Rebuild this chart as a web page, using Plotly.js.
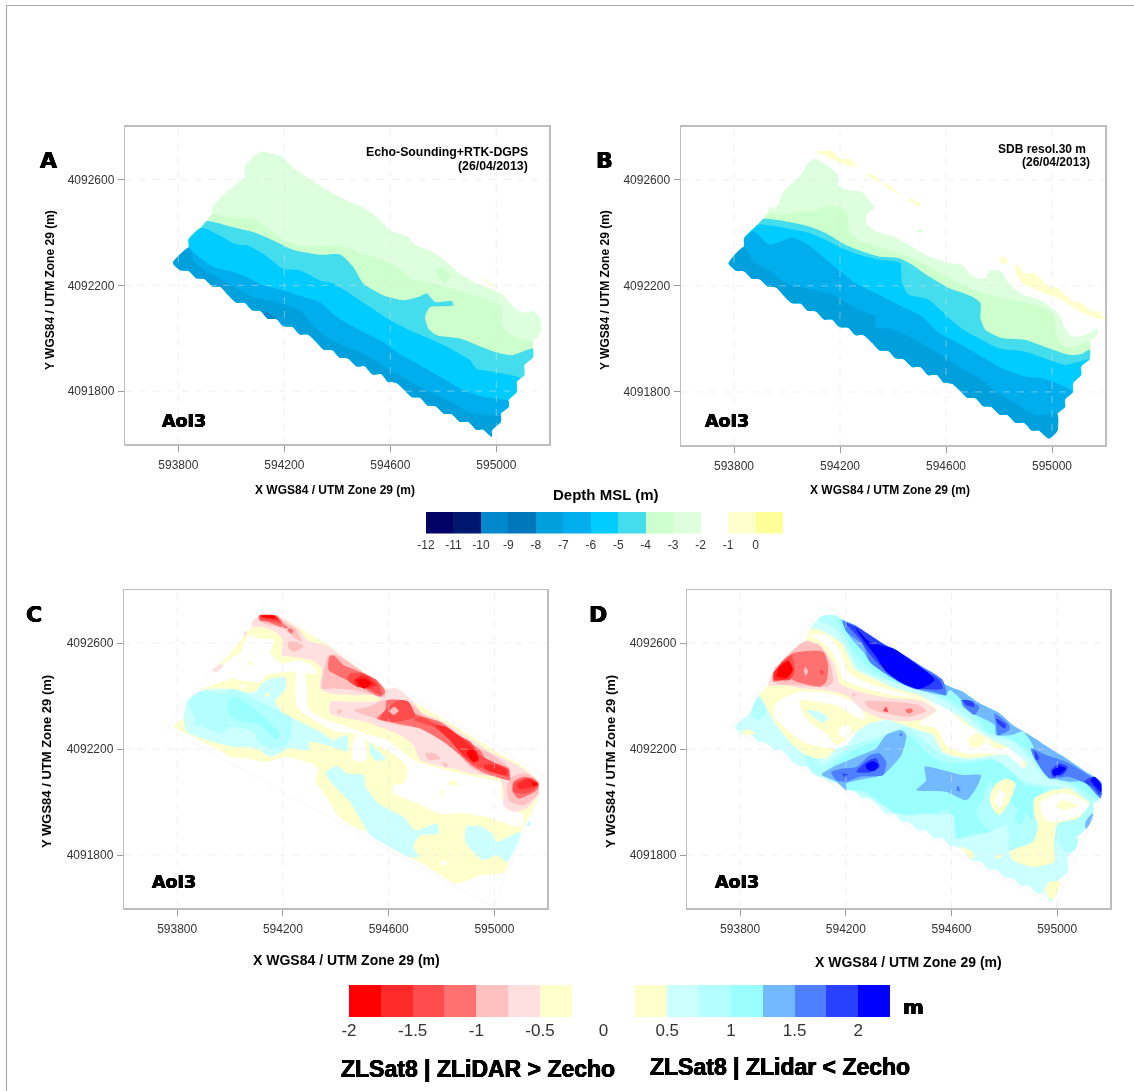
<!DOCTYPE html>
<html><head><meta charset="utf-8">
<script src="https://cdn.plot.ly/plotly-3.0.1.min.js"></script>
<style>html,body{margin:0;padding:0;background:#fff}#g{width:1134px;height:1091px;filter:blur(0.35px)}</style>
</head><body><div id="g"></div>
<script>
// ---- tick labels and legend values ----
const xTicks=[593800,594200,594600,595000];
const yTicks=[4091800,4092200,4092600];
const xRange=[593600,595200], yRange=[4091600,4092800];
const depthLevels=[-12,-11,-10,-9,-8,-7,-6,-5,-4,-3,-2,-1,0];
const depthColors=['#000066','#00176F','#0088CC','#0077BB','#00A0DD','#00AEEE','#00CCFF','#44DDEE','#CCFFCC','#DDFFDD','#FFFFFF','#FFFFCC','#FFFF99'];
const diffNeg=[-2,-1.75,-1.5,-1.25,-1,-0.75,-0.5];
const diffNegColors=['#FF0000','#FF2A2A','#FF4D4D','#FF7070','#FFC0C0','#FFE0E0','#FFFFCC'];
const diffPos=[0.25,0.5,0.75,1,1.25,1.5,1.75,2];
const diffPosColors=['#FFFFCC','#CCFFFF','#B3FFFF','#99FFFF','#73B9FF','#4D7FFF','#2A40FF','#0000FF'];
const diffTicks=[-2,-1.5,-1,-0.5,0,0.5,1,1.5,2];

// ---- contour polygons: flat east,north pairs, metres from (593000, 4091000) ----
const south=[1951,655,1924,655,1895,684,1863,684,1832,713,1803,715,1772,743,1740,747,1712,776,1681,778,1652,806,1624,831,1592,835,1567,864,1533,864,1504,894,1473,894,1441,923,1410,927,1382,955,1349,957,1321,986,1290,1014,1258,1015,1231,1043,1198,1045,1170,1073,1139,1074,1110,1103,1079,1106,1051,1134,1019,1135,988,1164,960,1194,928,1197,899,1224,868,1227,840,1254,809,1257,780,1285];
const frame=[1121,1745,2198,1092,1994,605,761,1279,1121,1745];

// Panel A
const a1=[839,1343,839,1374,908,1446,928,1469,928,1496,988,1559,1051,1610,1051,1648,1105,1704,1170,1694,1195,1683,1246,1635,1334,1578,1435,1522,1498,1494,1548,1459,1599,1408,1662,1386,1699,1351,1762,1326,1819,1282,1863,1244,1914,1213,1977,1188,2027,1163,2071,1112,2109,1096,2138,1103,2168,1072,2168,1018,2138,986,2138,961,2138,927,2106,898,2106,860,2077,835,2077,797,2046,766,2046,740,2017,715,2017,684,1983,652,1983,627,...south];
const a2=[839,1343,839,1374,908,1446,928,1469,994,1456,1082,1452,1132,1421,1195,1373,1246,1352,1334,1348,1410,1351,1485,1323,1573,1295,1636,1263,1687,1222,1775,1204,1863,1179,1951,1150,2021,1118,2021,1055,2046,1018,2103,995,2138,986,2138,961,2138,927,2106,898,2106,860,2077,835,2077,797,2046,766,2046,740,2017,715,2017,684,1983,652,1983,627,...south];
const a3=[839,1343,839,1374,887,1418,908,1443,994,1423,1082,1402,1158,1370,1233,1335,1334,1316,1410,1317,1460,1270,1498,1207,1573,1163,1649,1144,1706,1156,1737,1169,1769,1137,1832,1140,1838,1125,1788,1121,1750,1118,1731,1081,1744,1036,1775,1011,1863,999,1945,967,2002,946,2059,936,2138,961,2138,927,2106,898,2106,860,2077,835,2077,797,2046,766,2046,740,2017,715,2017,684,1983,652,1983,627,...south];
const a4=[839,1343,839,1374,887,1418,956,1389,1019,1355,1063,1350,1120,1320,1195,1263,1258,1257,1334,1219,1384,1207,1447,1169,1523,1118,1599,1068,1674,1030,1762,992,1838,955,1901,917,1926,885,1989,873,2090,850,2077,835,2077,797,2046,766,2046,740,2017,715,2017,684,1983,652,1983,627,...south];
const a5=[839,1343,862,1320,931,1270,1006,1251,1057,1232,1120,1200,1195,1181,1271,1156,1334,1137,1397,1081,1485,1030,1573,986,1624,948,1712,898,1788,854,1876,803,1951,778,2046,763,2046,740,2017,715,2017,684,1983,652,1983,627,...south];
const a6=[839,1339,862,1288,899,1257,956,1226,1013,1194,1082,1156,1170,1137,1258,1106,1303,1055,1359,1005,1435,967,1498,942,1599,879,1712,816,1813,766,1914,715,2017,703,2017,684,1983,652,1983,627,...south];
const aIsland=[1769,1263,1807,1263,1825,1238,1807,1207,1781,1232];
const aDeep=[1114,1103,1139,1096,1170,1074,1139,1074];
const aSpeck1=[1945,1232,1958,1226,1995,1188,1983,1194];
const aSpeck2=[2030,1175,2052,1156,2046,1156];
const aSpeck3=[1775,1339,1807,1314,1794,1320];

// Panel B
const bEast=[2142,923,2110,896,2110,864,2079,833,2079,801,2049,772,2049,744,2020,717,2020,654,1988,625,...south];
const b1=[838,1347,838,1378,907,1450,930,1475,930,1494,961,1497,987,1557,1049,1614,1081,1664,1109,1679,1169,1639,1191,1620,1194,1582,1220,1563,1283,1553,1308,1526,1330,1494,1301,1469,1298,1437,1333,1406,1396,1387,1446,1362,1535,1312,1610,1286,1661,1280,1686,1248,1724,1226,1749,1230,1768,1258,1806,1255,1837,1211,1887,1167,1950,1148,2001,1116,2032,1085,2045,1047,2076,1009,2127,1015,2171,1040,2171,1015,2142,990,...bEast];
const b2=[838,1347,838,1378,907,1450,930,1475,993,1469,1056,1481,1106,1482,1131,1497,1207,1494,1232,1450,1235,1400,1283,1368,1358,1343,1459,1311,1535,1274,1598,1236,1661,1204,1736,1173,1837,1148,1938,1129,2001,1097,2013,1059,2020,1009,2045,971,2089,971,2142,990,...bEast];
const b3=[838,1347,838,1378,880,1420,907,1450,917,1453,993,1444,1081,1425,1144,1400,1220,1355,1283,1330,1346,1311,1421,1305,1472,1280,1535,1236,1610,1192,1698,1160,1730,1135,1730,1078,1749,1034,1812,1003,1900,996,1988,965,2064,940,2108,942,2142,959,...bEast];
const b4=[838,1347,838,1378,892,1431,907,1431,993,1418,1081,1400,1144,1374,1207,1343,1270,1318,1346,1299,1428,1286,1431,1255,1434,1211,1459,1167,1535,1148,1585,1103,1648,1047,1711,1009,1799,965,1900,952,1988,921,2051,902,2142,923,2110,896,2110,864,2079,833,2079,801,2049,772,2049,744,2020,717,2020,654,1988,625,...south];
const b5=[838,1347,838,1378,873,1406,936,1355,1018,1381,1081,1355,1157,1292,1257,1211,1333,1173,1434,1122,1509,1085,1572,1022,1648,984,1736,933,1812,889,1900,858,1963,852,2020,833,2079,801,2049,772,2049,744,2020,717,2020,654,1988,625,...south];
const b6=[838,1347,873,1292,930,1261,1005,1204,1068,1192,1169,1168,1270,1110,1333,1085,1333,1040,1383,1040,1434,1022,1497,990,1572,946,1648,896,1736,845,1799,795,1862,757,1938,713,2020,717,2020,654,1988,625,...south];
const bY1=[1104,1706,1169,1708,1201,1679,1239,1677,1264,1645,1220,1658,1169,1677,1131,1696];
const bY2=[1298,1620,1320,1620,1339,1607,1352,1589,1320,1604];
const bY3=[1358,1589,1383,1582,1434,1536,1409,1551];
const bY4=[1455,1526,1478,1526,1509,1498,1484,1507];
const bY5=[1812,1314,1837,1286,1803,1286];
const bY6=[1869,1282,1894,1248,1932,1248,1988,1198,2020,1194,2083,1138,2108,1138,2152,1103,2171,1107,2202,1075,2167,1078,2120,1097,2083,1116,2039,1148,1988,1166,1925,1192,1887,1211,1860,1261];
const bG1=[1490,1406,1516,1410,1503,1400];

// Panel C
const cBase=[1114,1707,1177,1707,1379,1587,1593,1429,1694,1379,1845,1291,2009,1190,2110,1133,2166,1077,2166,1014,2135,951,2097,881,2059,812,2040,736,1946,724,1858,692,1795,724,1719,774,1669,793,1593,837,1517,888,1480,900,1404,951,1385,988,1341,1051,1322,1077,1335,1127,1291,1152,1240,1165,1215,1171,1139,1152,1064,1165,1001,1171,963,1196,919,1215,837,1259,787,1285,824,1322,837,1373,887,1423,938,1448,932,1490,1001,1562,1057,1631,1089,1669];
const cWhite=[932,1490,969,1518,1013,1549,1039,1562,1070,1631,1114,1618,1165,1612,1152,1562,1177,1537,1202,1524,1265,1536,1316,1511,1328,1486,1284,1486,1291,1442,1297,1354,1366,1310,1442,1285,1530,1253,1606,1228,1669,1177,1706,1152,1845,1114,1958,1089,2021,1077,2028,1014,2053,976,2110,951,2103,907,1971,944,1895,957,1795,957,1694,1001,1618,1033,1618,1064,1656,1070,1669,1133,1606,1190,1524,1228,1467,1259,1404,1266,1341,1297,1278,1335,1253,1360,1247,1442,1247,1492,1209,1490,1139,1480,1114,1452,1051,1457,1013,1467,963,1452,900,1436,925,1455];
const cHole1=[1473,1247,1505,1247,1511,1215,1517,1158,1467,1158,1461,1215];
const cHole2=[1036,1439,1054,1445,1058,1432,1039,1429];
const cHole3=[1795,774,1814,781,1822,768,1801,762];
const cDot1=[1826,1077,1851,1080,1866,1066,1832,1064];
const cDot2=[1797,1045,1807,1045,1807,1026,1797,1029];
const cDot3=[1070,1528,1086,1530,1089,1518,1074,1518];
const cDot4=[1131,1407,1146,1414,1152,1402,1137,1397];
const cC1=[837,1379,894,1423,1001,1427,1089,1414,1139,1461,1209,1470,1209,1429,1171,1379,1202,1335,1240,1316,1341,1266,1391,1234,1442,1253,1442,1190,1404,1203,1303,1228,1297,1196,1228,1203,1152,1171,1102,1203,1013,1209,913,1234,837,1266,824,1316];
const cC2=[837,1379,887,1417,976,1411,1013,1427,1064,1404,1177,1347,1234,1316,1215,1215,1152,1203,1108,1228,1089,1266,1001,1284,963,1259,900,1284,868,1291,868,1322];
const cC3=[995,1385,1020,1398,1083,1360,1139,1310,1190,1253,1171,1238,1114,1291,1057,1303,1001,1322];
const cC4=[1530,1228,1549,1203,1587,1165,1555,1155,1530,1184];
const cC5=[1360,1108,1404,1137,1442,1108,1505,1102,1511,1064,1555,1001,1593,976,1656,944,1700,894,1782,919,1788,881,1719,875,1694,831,1713,793,1675,793,1593,837,1530,875,1492,938,1454,1001,1417,1039];
const cC6=[1895,907,1952,907,1990,881,2009,850,2097,888,2091,850,2047,774,2009,799,1958,781,1908,825,1889,850];
const cC7=[2120,913,2135,932,2132,910];
const cP1=[1083,1681,1114,1707,1177,1707,1228,1675,1265,1650,1291,1612,1373,1587,1492,1499,1593,1429,1631,1429,1694,1379,1719,1341,1795,1310,1908,1240,1984,1190,2097,1133,2166,1077,2166,1032,2122,976,2072,963,2034,988,2034,1039,2021,1089,1958,1102,1908,1108,1845,1127,1807,1133,1719,1159,1694,1215,1643,1253,1580,1278,1517,1303,1442,1316,1379,1335,1379,1379,1442,1379,1530,1379,1568,1385,1543,1404,1467,1404,1379,1411,1341,1429,1347,1505,1310,1536,1240,1549,1196,1555,1202,1612,1158,1650,1114,1662,1083,1662];
const cP1b=[931,1495,963,1521,976,1518,950,1492];
const cP1c=[1051,1644,1068,1644,1054,1625];
const cP2a=[1108,1704,1177,1704,1215,1675,1247,1656,1272,1606,1247,1618,1202,1656,1139,1671,1108,1688];
const cP2b=[1221,1606,1253,1606,1278,1587,1240,1568,1221,1581];
const cP2c=[1347,1429,1354,1492,1373,1555,1404,1555,1492,1499,1580,1429,1587,1398,1467,1423,1391,1429];
const cP2d=[1467,1347,1524,1360,1580,1385,1643,1385,1694,1366,1732,1329,1795,1303,1870,1253,1921,1215,1984,1184,2059,1127,2053,1096,1971,1102,1908,1133,1858,1190,1795,1240,1719,1278,1631,1291,1555,1316,1492,1335];
const cP2e=[2053,1077,2078,1102,2122,1108,2166,1077,2166,1032,2110,988,2059,1001,2047,1039];
const cP2f=[1738,1184,1776,1184,1795,1165,1750,1159];
const cP2g=[1801,1152,1826,1140,1814,1130];
const cP3a=[1110,1704,1175,1704,1202,1675,1221,1656,1190,1662,1139,1681,1114,1684];
const cP3b=[1221,1656,1240,1650,1234,1637,1221,1644];
const cP3c=[1376,1549,1391,1555,1429,1518,1492,1492,1555,1461,1587,1417,1568,1398,1517,1423,1442,1461,1373,1499];
const cP3d=[1555,1316,1587,1347,1593,1385,1669,1381,1700,1335,1795,1303,1883,1240,1946,1196,1971,1159,2053,1127,2059,1083,1971,1108,1921,1133,1870,1177,1807,1228,1719,1278,1631,1297];
const cP3e=[2072,1077,2110,1096,2147,1089,2166,1070,2160,1045,2091,1014,2069,1039];
const cP4a=[1110,1704,1171,1704,1196,1675,1152,1684,1114,1690];
const cP4b=[1442,1467,1454,1486,1505,1486,1555,1455,1574,1404,1524,1427,1467,1442];
const cP4c=[1568,1316,1593,1354,1637,1385,1675,1379,1700,1322,1669,1310,1618,1303];
const cP4d=[1694,1310,1719,1322,1776,1297,1858,1253,1908,1228,1946,1177,2021,1140,2053,1121,2053,1096,1971,1121,1921,1140,1883,1171,1832,1234,1769,1284];
const cP4e=[2072,1070,2122,1092,2166,1070,2166,1058,2116,1032,2072,1039];
const cP5a=[1114,1704,1171,1704,1184,1688,1127,1694];
const cP5b=[1467,1461,1505,1480,1555,1442,1524,1432,1480,1436];
const cP5c=[1776,1291,1814,1285,1870,1247,1933,1190,1940,1152,1908,1159,1870,1190,1826,1240];
const cP5d=[1958,1140,2009,1140,2047,1121,2047,1102,1971,1121];
const cP5e=[2084,1064,2129,1089,2166,1070,2147,1058,2097,1049];
const cP6a=[1114,1704,1165,1704,1171,1694,1127,1698];
const cP6b=[1477,1461,1511,1467,1536,1448,1505,1429];
const cP6c=[1895,1190,1921,1196,1940,1165,1921,1150];
const cP6d=[2141,1077,2166,1067,2147,1058];
const cH1=[1603,1344,1621,1360,1638,1344,1618,1329];
const cH2=[1404,1344,1417,1354,1423,1341,1410,1334];

// Panel D
const dNorth=[1070,1662,1114,1704,1164,1704,1189,1688,1240,1662,1328,1606,1391,1574,1479,1518,1542,1461,1593,1436,1643,1417,1706,1373,1782,1335,1832,1291,1895,1253,1971,1203,2034,1165,2109,1114,2166,1077];
const dBase=[843,1341,868,1398,906,1442,929,1499,1000,1574,1051,1618,...dNorth,2166,1014,2134,988,2134,938,2103,900,2071,862,2071,825,2040,793,2040,736,2008,705,2008,673,1977,623,...south];
const dMid1=[1076,1108,1152,1165,1227,1215,1328,1247,1429,1284,1504,1228,1567,1177,1656,1158,1756,1165,1819,1121,1882,1077,1958,1064,2059,1051,2134,995,2134,938,2103,894,2071,869,2008,894,1996,837,1989,774,1908,755,1819,812,1813,913,1744,888,1618,862,1605,951,1542,951,1504,957,1429,951,1353,982,1278,1026,1202,1051,1164,1077];
const dMid2=[2008,888,2040,900,2078,862,2071,825,2034,812,2008,837];
const dMid3=[843,1348,868,1398,902,1348,874,1310,843,1322];
const dMid4=[1038,1184,1114,1140,1114,1108,1076,1108];
const dMid5=[1813,913,1832,1014,1882,1014,1901,951,1882,875,1819,888];
const dHi1=[1114,1102,1164,1152,1240,1203,1328,1234,1404,1266,1454,1240,1517,1177,1567,1152,1656,1146,1756,1159,1782,1127,1744,1077,1719,1014,1693,963,1719,913,1750,888,1681,881,1618,862,1612,938,1580,973,1542,957,1504,957,1429,951,1378,963,1328,1001,1278,1039,1202,1049,1164,1077];
const dHi2=[1769,1152,1813,1127,1882,1064,1958,1051,1908,1001,1908,938,1819,1001,1756,1039];
const dHi3=[1845,963,1864,969,1876,938,1857,915,1842,938];
const dS3a=[1108,1104,1152,1133,1227,1165,1315,1203,1353,1253,1410,1272,1429,1253,1410,1177,1341,1102,1315,1096,1202,1070,1202,1045,1164,1077];
const dS3b=[1498,1133,1567,1121,1643,1102,1712,1102,1693,1051,1656,1007,1580,1039,1467,1045,1504,1083];
const dS4a=[1145,1114,1189,1127,1240,1133,1290,1177,1328,1184,1353,1152,1341,1102,1252,1096,1202,1077,1164,1083];
const dS4b=[1624,1064,1634,1041,1618,1044];
const dS4c=[1401,1257,1416,1259,1410,1247];
const dS5a=[1187,1108,1208,1104,1196,1093];
const dS5b=[1240,1114,1278,1152,1315,1165,1328,1133,1290,1112];
const dS6=[1275,1140,1303,1155,1324,1140,1309,1118,1284,1121];
const dYel=[906,1442,929,1499,1000,1574,1051,1618,1070,1662,1177,1606,1278,1492,1454,1417,1643,1316,1882,1165,1876,1127,1813,1177,1756,1177,1656,1165,1567,1190,1530,1253,1441,1284,1353,1310,1278,1291,1227,1253,1164,1203,1126,1165,1051,1177,988,1228,937,1291,887,1379,874,1404];
const dW1=[1070,1631,1126,1631,1177,1574,1208,1492,1278,1452,1391,1417,1504,1385,1580,1354,1656,1291,1719,1253,1763,1203,1832,1203,1870,1159,1864,1133,1819,1177,1750,1184,1656,1184,1580,1215,1542,1278,1479,1297,1548,1347,1479,1392,1378,1404,1278,1429,1189,1467,1164,1537,1126,1593];
const dW2=[925,1354,950,1385,1026,1417,1139,1410,1240,1373,1271,1322,1202,1215,1152,1203,1051,1222,988,1266,937,1316];
const dY2=[1026,1385,1089,1379,1164,1366,1227,1329,1278,1297,1227,1259,1164,1215,1126,1259,1076,1291,1038,1335];
const dC2=[1051,1347,1101,1341,1133,1316,1108,1301,1070,1329];
const dW3=[1177,1278,1202,1291,1221,1272,1202,1240,1177,1253];
const dY3=[805,1266,830,1276,855,1259,824,1253];
const dY4=[1662,1234,1693,1259,1725,1247,1725,1222,1681,1203];
const dW4=[1819,1190,1851,1196,1870,1152,1832,1159];
const dY5=[1914,1014,1983,1045,2046,1051,2122,995,2078,938,2002,919,1989,837,1989,774,1908,755,1832,781,1819,812,1908,850,1927,913,1914,951];
const dW5=[1939,1001,1996,1032,2046,1032,2122,988,2071,944,1971,925,1939,963];
const dY6=[1996,982,2021,1007,2078,986,2034,970];
const dY7=[1744,1014,1763,1064,1807,1089,1842,1070,1819,1001,1782,951,1756,976];
const dW6=[1763,1001,1782,1045,1804,1032,1782,982];
const dY8=[1630,831,1681,812,1687,787,1668,793];
const dY9=[1952,667,1971,699,2015,701,1983,629];
const dY10=[1763,793,1794,806,1782,787];
const dBlueE=[2107,925,2134,957,2134,932,2109,898];
const dP1=[906,1442,929,1499,1000,1574,1051,1612,1114,1581,1158,1518,1177,1448,1252,1417,1378,1392,1479,1385,1542,1347,1479,1310,1353,1310,1265,1347,1202,1404,1114,1423,1038,1429,963,1442];
const dP2a=[929,1499,1000,1574,1044,1606,1101,1593,1139,1530,1152,1455,1126,1436,1063,1436,1000,1442,937,1448];
const dP2b=[1271,1379,1378,1379,1479,1366,1504,1344,1441,1322,1353,1335,1290,1354];
const dP3=[929,1499,1000,1562,1114,1568,1133,1518,1126,1455,1101,1436,1063,1442,1013,1455,988,1467,925,1455];
const dP4=[929,1499,994,1555,1007,1492,988,1461,925,1467];
const dP5=[929,1495,982,1536,1000,1505,982,1467,931,1461];
const dP6=[950,1511,982,1533,1000,1499,975,1470,937,1474];
const dH1=[1048,1511,1057,1492,1048,1477,1041,1495];
const dH2=[1101,1499,1120,1492,1108,1480];
const dH3=[1341,1344,1353,1360,1360,1341];
const dH4=[1426,1347,1448,1354,1454,1341,1435,1335];
const dH5=[1221,1410,1240,1407,1230,1398];
const dB0low=[1070,1656,1126,1650,1189,1593,1234,1505,1278,1480,1391,1429,1542,1385,1618,1335,1668,1291,1744,1240,1819,1203,1882,1152,1945,1077,2046,1051,2134,995,2166,1014];
const dB1low=[1095,1688,1152,1662,1202,1593,1246,1511,1315,1474,1416,1442,1542,1398,1618,1354,1668,1316,1744,1253,1832,1228,1895,1165,1958,1089,2046,1064,2134,1001,2166,1020];
const dB2low=[1164,1694,1183,1656,1227,1574,1278,1518,1353,1467,1454,1429,1567,1398,1605,1379,1681,1335,1738,1266,1819,1240,1895,1190,1945,1114,2059,1070,2147,1014,2166,1020];
const dB3low=[1183,1688,1215,1625,1265,1568,1297,1524,1378,1474,1479,1423,1580,1404,1593,1423,1637,1385,1643,1360,1693,1329,1763,1291,1769,1253,1826,1253,1870,1266,1908,1215,1914,1177,1971,1096,2046,1077,2103,1077,2166,1014];
const dB4a=[1189,1684,1234,1669,1353,1587,1479,1518,1567,1461,1580,1404,1530,1417,1454,1429,1378,1467,1290,1530,1265,1593,1202,1644];
const dB4b=[1637,1385,1668,1385,1706,1360,1687,1329,1649,1360];
const dB4c=[1763,1335,1819,1291,1819,1272,1775,1253,1769,1291];
const dB4d=[1901,1203,1958,1177,2034,1152,2166,1064,2166,1014,2109,1070,2040,1096,1971,1089,1914,1165];
const dB5a=[1202,1675,1240,1662,1378,1574,1479,1511,1555,1461,1567,1429,1479,1429,1404,1455,1328,1518,1284,1568,1252,1618];
const dB5b=[1643,1385,1681,1379,1687,1360,1656,1366];
const dB5c=[1769,1316,1807,1291,1801,1278,1775,1297];
const dB5d=[1914,1196,1933,1165,1920,1159];
const dB5e=[1977,1121,2008,1146,2040,1133,2021,1102,1983,1096];
const dB5f=[2103,1077,2134,1096,2166,1064,2162,1026,2134,1058];
const dB6a=[1234,1662,1290,1606,1378,1581,1473,1518,1536,1461,1479,1427,1416,1448,1353,1492,1315,1549,1271,1606];
const dB6b=[1981,1114,2008,1136,2034,1127,2015,1108,1990,1099];
const dB6c=[2128,1083,2141,1096,2166,1070,2166,1039];

// ---- colours of the classes used by the panels ----
const G3='#DDFFDD',G4='#CCFFCC',T5='#44DDEE',C6='#00CCFF',B7='#00AEEE',B8='#00A0DD',D9='#0088CC',Y='#FFFFCC',W='#FFFFFF';
const R1='#FFE0E0',R2='#FFC0C0',R3='#FF7070',R4='#FF4D4D',R5='#FF2A2A',R6='#FF0000';
const S1='#CCFFFF',S2='#B3FFFF',S3='#99FFFF',S4='#73B9FF',S5='#4D7FFF',S6='#2A40FF',S7='#0000FF';

const rev=f=>{const o=[];for(let i=f.length-2;i>=0;i-=2)o.push(f[i],f[i+1]);return o;};
const nFrom=k=>rev(dNorth.slice(2*k));

const layersA=[[a1,G3],[a2,G4],[aIsland,G4],[a3,T5],[a4,C6],[a5,B7],[a6,B8],[aDeep,D9],[aSpeck1,Y],[aSpeck2,Y],[aSpeck3,Y]];
const layersB=[[bY1,Y],[bY2,Y],[bY3,Y],[bY4,Y],[bY5,Y],[bY6,Y],[bG1,G4],[b1,G3],[b2,G4],[b3,T5],[b4,C6],[b5,B7],[b6,B8]];
const layersC=[[cBase,Y],[cWhite,W],[cHole1,W],[cHole2,W],[cHole3,W],[cC1,S1],[cC2,S2],[cC3,S3],[cC4,S1],[cC5,S1],[cC6,S1],[cC7,S2],
 [cDot1,Y],[cDot2,Y],[cDot3,Y],[cDot4,Y],[cP1,R1],[cP1b,R1],[cP1c,R1],[cP2a,R2],[cP2b,R2],[cP2c,R2],[cP2d,R2],[cP2e,R2],[cP2f,R2],[cP2g,R2],
 [cP3a,R3],[cP3b,R3],[cP3c,R3],[cP3d,R3],[cP3e,R3],[cP4a,R4],[cP4b,R4],[cP4c,R4],[cP4d,R4],[cP4e,R4],[cP5a,R5],[cP5b,R5],[cP5c,R5],[cP5d,R5],[cP5e,R5],[cP6a,R6],[cP6b,R6],[cP6c,R6],[cP6d,R6],[cH1,R2],[cH2,R2]];
const layersD=[[dBase,S1],[dMid1,S2],[dMid2,S2],[dMid3,S2],[dMid4,S2],[dMid5,S2],[dHi1,S3],[dHi2,S3],[dHi3,S3],[dS3a,S4],[dS3b,S4],[dS4a,S5],[dS4b,S5],[dS4c,S5],[dS5a,S6],[dS5b,S6],[dS6,S7],
 [dYel,Y],[dW1,W],[dW2,W],[dY2,Y],[dC2,S1],[dW3,W],[dY3,Y],[dY4,Y],[dW4,W],[dY5,Y],[dW5,W],[dY6,Y],[dY7,Y],[dW6,W],[dY8,Y],[dY9,Y],[dY10,Y],[dBlueE,S4],
 [dP1,R1],[dP2a,R2],[dP2b,R2],[dP3,R3],[dP4,R4],[dP5,R5],[dP6,R6],[dH1,R2],[dH2,R4],[dH3,R4],[dH4,R3],[dH5,R2],
 [[...dB0low,...nFrom(0)],S1],[[...dB1low,...nFrom(1)],S2],[[...dB2low,...nFrom(3)],S3],[[...dB3low,...nFrom(3)],S4],
 [dB4a,S5],[dB4b,S5],[dB4c,S5],[dB4d,S5],[dB5a,S6],[dB5b,S6],[dB5c,S6],[dB5d,S6],[dB5e,S6],[dB5f,S6],[dB6a,S7],[dB6b,S7],[dB6c,S7]];

// ---- page geometry ----
const PW=1134,PH=1091;
const fx=p=>p/PW, fy=p=>1-p/PH;
const boxes=[{x:[125.3,549.3],y:[126.7,444]},{x:[681,1105],y:[126.7,445]},{x:[124.3,547.3],y:[590.3,908]},{x:[687.3,1110],y:[590.3,908]}];
const allLayers=[layersA,layersB,layersC,layersD];

const traces=[];
const axisId=i=>i===0?'':String(i+1);
allLayers.forEach((ls,i)=>{
  ls.forEach(([f,c])=>{
    const xs=[],ys=[];
    for(let k=0;k<f.length;k+=2){xs.push(593000+f[k]);ys.push(4091000+f[k+1]);}
    xs.push(xs[0]);ys.push(ys[0]);
    traces.push({type:'scatter',x:xs,y:ys,xaxis:'x'+axisId(i),yaxis:'y'+axisId(i),mode:'none',fill:'toself',fillcolor:c,line:{shape:'spline',smoothing:0.6},hoverinfo:'skip',showlegend:false});
  });
  if(i>=2){
    const xs=[],ys=[];
    for(let k=0;k<frame.length;k+=2){xs.push(593000+frame[k]);ys.push(4091000+frame[k+1]);}
    traces.push({type:'scatter',x:xs,y:ys,xaxis:'x'+axisId(i),yaxis:'y'+axisId(i),mode:'lines',line:{color:'#F6F6F6',width:1},hoverinfo:'skip',showlegend:false});
  }
});
// legends as bars on their own axes
traces.push({type:'bar',x:depthLevels,y:depthLevels.map(()=>1),width:depthLevels.map(()=>1),offset:0,xaxis:'x5',yaxis:'y5',marker:{color:depthColors,line:{width:0}},hoverinfo:'skip',showlegend:false});
traces.push({type:'bar',x:diffNeg,y:diffNeg.map(()=>1),width:diffNeg.map(()=>0.25),offset:0,xaxis:'x6',yaxis:'y6',marker:{color:diffNegColors,line:{width:0}},hoverinfo:'skip',showlegend:false});
traces.push({type:'bar',x:diffPos,y:diffPos.map(()=>1),width:diffPos.map(()=>0.25),offset:0,xaxis:'x6',yaxis:'y6',marker:{color:diffPosColors,line:{width:0}},hoverinfo:'skip',showlegend:false});

const LS='Liberation Sans, Arial, sans-serif', HV='DejaVu Sans, sans-serif';
const layout={width:PW,height:PH,margin:{l:0,r:0,t:0,b:0},paper_bgcolor:'#fff',plot_bgcolor:'rgba(0,0,0,0)',showlegend:false,barmode:'overlay',bargap:0,shapes:[],annotations:[]};
boxes.forEach((b,i)=>{
  const n=axisId(i);
  layout['xaxis'+n]={domain:[fx(b.x[0]),fx(b.x[1])],range:xRange,anchor:'y'+n,tickmode:'array',tickvals:xTicks,ticktext:xTicks.map(String),ticks:'outside',ticklen:6,tickcolor:'#999',tickwidth:1,showgrid:false,zeroline:false,showline:true,mirror:true,linecolor:'#BDBDBD',linewidth:1.5,tickfont:{family:LS,size:12,color:'#333'},ticklabelstandoff:3};
  layout['yaxis'+n]={domain:[fy(b.y[1]),fy(b.y[0])],range:yRange,anchor:'x'+n,tickmode:'array',tickvals:yTicks,ticktext:yTicks.map(String),ticks:'outside',ticklen:6,tickcolor:'#999',tickwidth:1,showgrid:false,zeroline:false,showline:true,mirror:true,linecolor:'#BDBDBD',linewidth:1.5,tickfont:{family:LS,size:12,color:'#333'},ticklabelstandoff:1};
  xTicks.forEach(v=>layout.shapes.push({type:'line',layer:'above',xref:'x'+n,yref:'y'+n+' domain',x0:v,x1:v,y0:0,y1:1,line:{color:'rgba(225,225,225,0.5)',width:1,dash:'7px,7px'}}));
  yTicks.forEach(v=>layout.shapes.push({type:'line',layer:'above',xref:'x'+n+' domain',yref:'y'+n,x0:0,x1:1,y0:v,y1:v,line:{color:'rgba(225,225,225,0.5)',width:1,dash:'7px,7px'}}));
});
layout.xaxis5={domain:[fx(426),fx(783)],range:[-12,1],anchor:'y5',tickmode:'array',tickvals:depthLevels,ticktext:depthLevels.map(String),ticks:'',showgrid:false,zeroline:false,showline:false,tickfont:{family:LS,size:12,color:'#333'},ticklabelstandoff:2};
layout.yaxis5={domain:[fy(533.5),fy(512)],range:[0,1],anchor:'x5',visible:false};
layout.xaxis6={domain:[fx(349),fx(890)],range:[-2,2.25],anchor:'y6',tickmode:'array',tickvals:diffTicks,ticktext:diffTicks.map(String),ticks:'',showgrid:false,zeroline:false,showline:false,tickfont:{family:LS,size:17,color:'#333'},ticklabelstandoff:1};
layout.yaxis6={domain:[fy(1017),fy(985)],range:[0,1],anchor:'x6',visible:false};

// page frame: top and left edges only
layout.shapes.push({type:'line',layer:'below',xref:'paper',yref:'paper',x0:fx(6),x1:1,y0:fy(5.5),y1:fy(5.5),line:{color:'#AAAAAA',width:1.2}});
layout.shapes.push({type:'line',layer:'below',xref:'paper',yref:'paper',x0:fx(6.5),x1:fx(6.5),y0:0,y1:fy(5),line:{color:'#AAAAAA',width:1.2}});

const thick='0.5px 0 0 #000,-0.5px 0 0 #000,0 0.4px 0 #000,0 -0.4px 0 #000';
const ann=(text,x,y,size,opt={})=>layout.annotations.push(Object.assign({text,x:fx(x),y:fy(y),xref:'paper',yref:'paper',showarrow:false,xanchor:'center',yanchor:'middle',font:{family:LS,size,color:'#000',weight:700}},opt));
const heavy=s=>({font:{family:HV,size:s,color:'#000',weight:700,shadow:thick}});
[['A',48,160],['B',604,160],['C',34,614],['D',598,614]].forEach(a=>ann(a[0],a[1],a[2],22,heavy(22)));
[[184,421],[727,421],[174,882],[737,882]].forEach(p=>ann('AoI3',p[0],p[1],17.5,heavy(17.5)));
const xT='X WGS84 / UTM Zone 29 (m)',yT='Y WGS84 / UTM Zone 29 (m)';
ann(xT,335,490,12); ann(xT,890,490,12); ann(xT,346,960,14); ann(xT,908,962,14);
ann(yT,50,290,12,{textangle:-90}); ann(yT,605,290,12,{textangle:-90}); ann(yT,46,762,13,{textangle:-90}); ann(yT,610,762,13,{textangle:-90});
ann('Echo-Sounding+RTK-DGPS',530,152,12.3,{xanchor:'right'}); ann('(26/04/2013)',530,166,12.3,{xanchor:'right'});
ann('SDB resol.30 m',1088,149,12,{xanchor:'right'}); ann('(26/04/2013)',1092,162,12,{xanchor:'right'});
ann('Depth MSL (m)',606,495,15);
ann('m',913,1007,20,heavy(20));
const headline={font:{family:LS,size:23,color:'#000',weight:700,shadow:thick}};
ann('ZLSat8 | ZLiDAR > Zecho',478,1069,23,headline);
ann('ZLSat8 | ZLidar < Zecho',780,1067,23,headline);

Plotly.newPlot('g',traces,layout,{displayModeBar:false,staticPlot:true});
</script></body></html>
